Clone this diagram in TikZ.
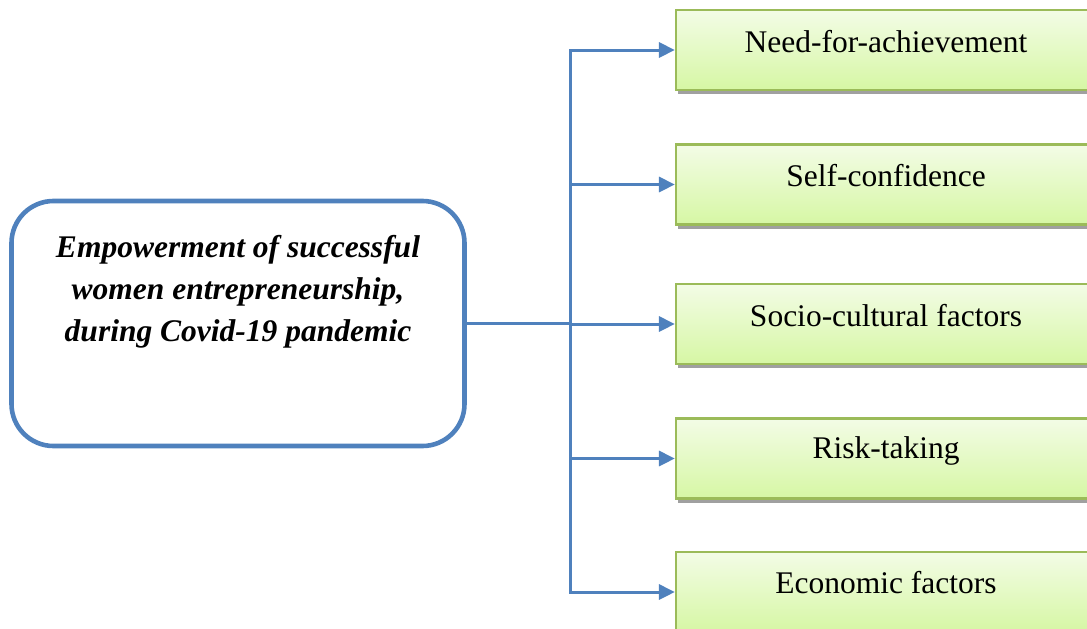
\documentclass[tikz,border=0pt]{standalone}
\usepackage{fontspec}
\setmainfont{Liberation Serif}
\usetikzlibrary{arrows.meta,shadows}
\definecolor{linkblue}{HTML}{4F81BD}
\definecolor{boxgreen}{HTML}{9BBB59}
\definecolor{greentop}{HTML}{F3FCE6}
\definecolor{greenbot}{HTML}{D6F7A4}
\definecolor{shadowgray}{HTML}{A0A0A0}
\tikzset{
  factorbox/.style={draw=boxgreen, line width=2.2pt, top color=greentop, bottom color=greenbot,
    minimum width=420pt, minimum height=80pt, inner sep=0pt,
    drop shadow={shadow xshift=2pt, shadow yshift=-4pt, opacity=1, fill=shadowgray}},
  factortext/.style={font=\fontsize{31.5}{38}\selectfont, inner sep=0pt},
  mainbox/.style={draw=linkblue, line width=4.6pt, rounded corners=42pt, fill=white,
    minimum width=453pt, minimum height=245pt, inner sep=0pt},
  maintext/.style={font=\fontsize{31.5}{42}\selectfont\bfseries\itshape, align=center, inner sep=0pt},
  link/.style={draw=linkblue, line width=3pt},
  arr/.style={link, -{Triangle[length=16pt,width=15pt]}},
}
\begin{document}
\begin{tikzpicture}[x={(1pt,0)}, y={(0,-1pt)}]
\useasboundingbox (0,0) rectangle (1087,629);
\clip (0,0) rectangle (1087,629);

% central concept
\node[mainbox] (main) at (238,323.5) {};
\node[maintext, anchor=north] (maintxt) at (238,235)
  {Empowerment of successful\\women entrepreneurship,\\during Covid-19 pandemic};

% factor boxes
\node[factorbox] (f1) at (886,50) {};
\node[factorbox] (f2) at (886,184.5) {};
\node[factorbox] (f3) at (886,324) {};
\node[factorbox] (f4) at (886,458.5) {};
\node[factorbox] (f5) at (886,592) {};

\node[factortext] (t1) at (886,42) {Need-for-achievement};
\node[factortext] (t2) at (886,176) {Self-confidence};
\node[factortext] (t3) at (886,316) {Socio-cultural factors};
\node[factortext] (t4) at (886,451) {Risk-taking};
\node[factortext] (t5) at (886,583) {Economic factors};

% connectors through the vertical trunk
\coordinate (trunk) at (570,323.5);
\draw[link] (main.east) -- (trunk);
\foreach \f in {f1,f2,f3,f4,f5}
  \draw[arr] (trunk) |- (\f.west);
\end{tikzpicture}
\end{document}
